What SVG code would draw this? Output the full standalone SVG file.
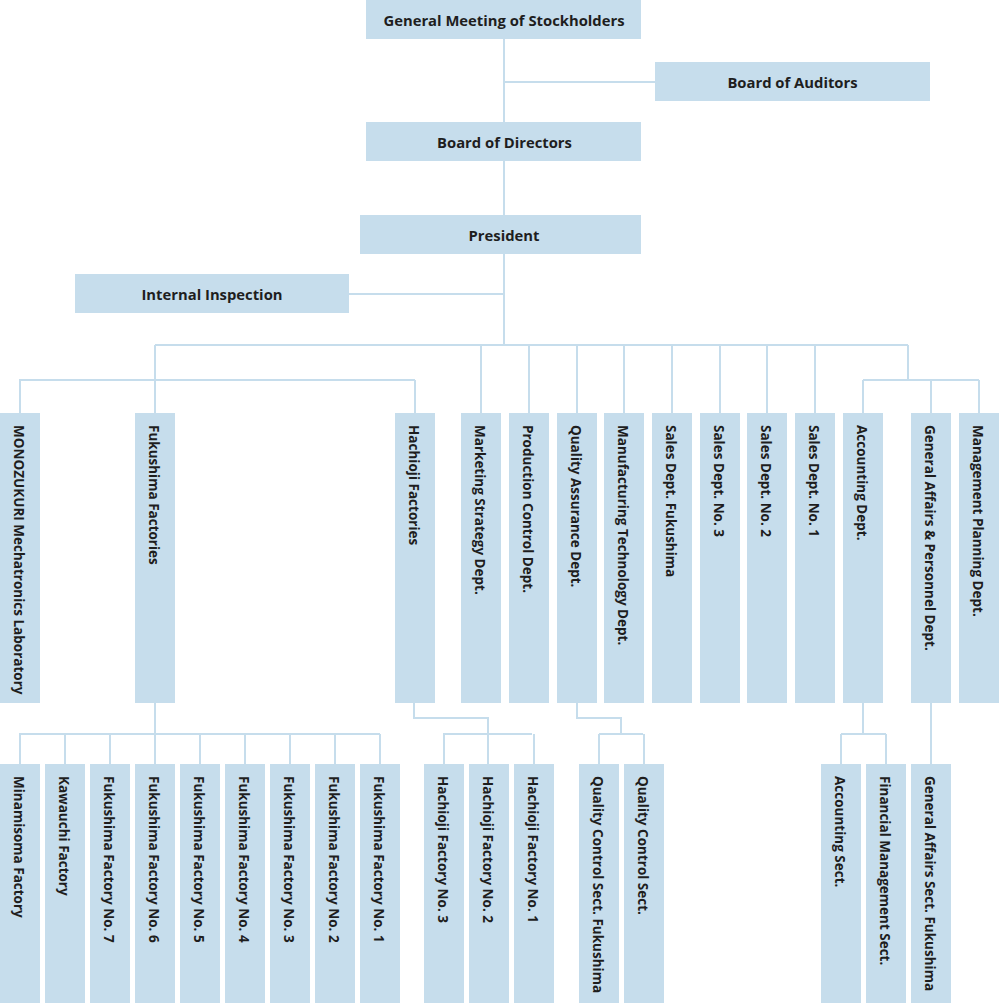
<svg xmlns="http://www.w3.org/2000/svg" width="999" height="1003" viewBox="0 0 999 1003">
<style>
.n{fill:#c6ddec}
.t{font-family:"Open Sans","DejaVu Sans",sans-serif;font-weight:700;font-size:13.5px;fill:#1e1e1e}
.h{text-anchor:middle;dominant-baseline:central;font-size:14.8px}
.v{dominant-baseline:central}
.c{fill:none;stroke:#c6ddec;stroke-width:2}
</style>
<rect width="999" height="1003" fill="#fff"/>
<g id="connectors" class="c">
<path d="M504 39V345M504 82H655M349 294H504"/>
<path d="M155 345H908M155 345V413M19 380H415M20 380V413M415 380V413"/>
<path d="M481 345V413M529 345V413M577 345V413M624 345V413M672 345V413M720 345V413M767 345V413M815 345V413"/>
<path d="M908 345V380M863 380H979M863 380V413M931 380V413M979 380V413"/>
<path d="M155 703V764M19 734H380M20 734V764M65 734V764M110 734V764M200 734V764M245 734V764M290 734V764M335 734V764M380 734V764"/>
<path d="M414 703V718H488V764M443 734H532M444 734V764M534 734V764"/>
<path d="M577 703V718H621V734M599 734H643M599 734V764M644 734V764"/>
<path d="M863 703V734M841 734H886M841 734V764M886 734V764"/>
<path d="M931 703V764"/>
</g>
<g id="gm"><rect class="n" x="366" y="0" width="275" height="39"/><text class="t h" x="504" y="20">General Meeting of Stockholders</text></g>
<g id="auditors"><rect class="n" x="655" y="62" width="275" height="39"/><text class="t h" x="792.5" y="82">Board of Auditors</text></g>
<g id="directors"><rect class="n" x="366" y="122" width="275" height="39"/><text class="t h" x="504.5" y="142">Board of Directors</text></g>
<g id="president"><rect class="n" x="360" y="215" width="281" height="39"/><text class="t h" x="504" y="235">President</text></g>
<g id="inspection"><rect class="n" x="75" y="274" width="274" height="39"/><text class="t h" x="212" y="294">Internal Inspection</text></g>

<g id="monozukuri"><rect class="n" x="0" y="413" width="40" height="290"/><text class="t v" transform="translate(19 425) rotate(90)">MONOZUKURI Mechatronics Laboratory</text></g>
<g id="fukushima"><rect class="n" x="135" y="413" width="40" height="290"/><text class="t v" transform="translate(154 425) rotate(90)">Fukushima Factories</text></g>
<g id="hachioji"><rect class="n" x="395" y="413" width="40" height="290"/><text class="t v" transform="translate(414 425) rotate(90)">Hachioji Factories</text></g>
<g id="marketing"><rect class="n" x="461" y="413" width="40" height="290"/><text class="t v" transform="translate(480 425) rotate(90)">Marketing Strategy Dept.</text></g>
<g id="production"><rect class="n" x="509" y="413" width="40" height="290"/><text class="t v" transform="translate(528 425) rotate(90)">Production Control Dept.</text></g>
<g id="qa"><rect class="n" x="557" y="413" width="40" height="290"/><text class="t v" transform="translate(576 425) rotate(90)">Quality Assurance Dept.</text></g>
<g id="mfgtech"><rect class="n" x="604" y="413" width="40" height="290"/><text class="t v" transform="translate(623 425) rotate(90)">Manufacturing Technology Dept.</text></g>
<g id="salesfk"><rect class="n" x="652" y="413" width="40" height="290"/><text class="t v" transform="translate(671 425) rotate(90)">Sales Dept. Fukushima</text></g>
<g id="sales3"><rect class="n" x="700" y="413" width="40" height="290"/><text class="t v" transform="translate(719 425) rotate(90)">Sales Dept. No. 3</text></g>
<g id="sales2"><rect class="n" x="747" y="413" width="40" height="290"/><text class="t v" transform="translate(766 425) rotate(90)">Sales Dept. No. 2</text></g>
<g id="sales1"><rect class="n" x="795" y="413" width="40" height="290"/><text class="t v" transform="translate(814 425) rotate(90)">Sales Dept. No. 1</text></g>
<g id="accounting"><rect class="n" x="843" y="413" width="40" height="290"/><text class="t v" transform="translate(862 425) rotate(90)">Accounting Dept.</text></g>
<g id="genaffairs"><rect class="n" x="911" y="413" width="40" height="290"/><text class="t v" transform="translate(930 425) rotate(90)">General Affairs &amp; Personnel Dept.</text></g>
<g id="mgmtplan"><rect class="n" x="959" y="413" width="40" height="290"/><text class="t v" transform="translate(978 425) rotate(90)">Management Planning Dept.</text></g>

<g id="minamisoma"><rect class="n" x="0" y="764" width="40" height="239"/><text class="t v" transform="translate(19 776) rotate(90)">Minamisoma Factory</text></g>
<g id="kawauchi"><rect class="n" x="45" y="764" width="40" height="239"/><text class="t v" transform="translate(64 776) rotate(90)">Kawauchi Factory</text></g>
<g id="fk7"><rect class="n" x="90" y="764" width="40" height="239"/><text class="t v" transform="translate(109 776) rotate(90)">Fukushima Factory No. 7</text></g>
<g id="fk6"><rect class="n" x="135" y="764" width="40" height="239"/><text class="t v" transform="translate(154 776) rotate(90)">Fukushima Factory No. 6</text></g>
<g id="fk5"><rect class="n" x="180" y="764" width="40" height="239"/><text class="t v" transform="translate(199 776) rotate(90)">Fukushima Factory No. 5</text></g>
<g id="fk4"><rect class="n" x="225" y="764" width="40" height="239"/><text class="t v" transform="translate(244 776) rotate(90)">Fukushima Factory No. 4</text></g>
<g id="fk3"><rect class="n" x="270" y="764" width="40" height="239"/><text class="t v" transform="translate(289 776) rotate(90)">Fukushima Factory No. 3</text></g>
<g id="fk2"><rect class="n" x="315" y="764" width="40" height="239"/><text class="t v" transform="translate(334 776) rotate(90)">Fukushima Factory No. 2</text></g>
<g id="fk1"><rect class="n" x="360" y="764" width="40" height="239"/><text class="t v" transform="translate(379 776) rotate(90)">Fukushima Factory No. 1</text></g>
<g id="hc3"><rect class="n" x="424" y="764" width="40" height="239"/><text class="t v" transform="translate(443 776) rotate(90)">Hachioji Factory No. 3</text></g>
<g id="hc2"><rect class="n" x="469" y="764" width="40" height="239"/><text class="t v" transform="translate(488 776) rotate(90)">Hachioji Factory No. 2</text></g>
<g id="hc1"><rect class="n" x="514" y="764" width="40" height="239"/><text class="t v" transform="translate(533 776) rotate(90)">Hachioji Factory No. 1</text></g>
<g id="qcfk"><rect class="n" x="579" y="764" width="40" height="239"/><text class="t v" transform="translate(598 776) rotate(90)">Quality Control Sect. Fukushima</text></g>
<g id="qc"><rect class="n" x="624" y="764" width="40" height="239"/><text class="t v" transform="translate(643 776) rotate(90)">Quality Control Sect.</text></g>
<g id="acctsect"><rect class="n" x="821" y="764" width="40" height="239"/><text class="t v" transform="translate(840 776) rotate(90)">Accounting Sect.</text></g>
<g id="finsect"><rect class="n" x="866" y="764" width="40" height="239"/><text class="t v" transform="translate(885 776) rotate(90)">Financial Management Sect.</text></g>
<g id="gasect"><rect class="n" x="911" y="764" width="40" height="239"/><text class="t v" transform="translate(930 776) rotate(90)">General Affairs Sect. Fukushima</text></g>
</svg>
